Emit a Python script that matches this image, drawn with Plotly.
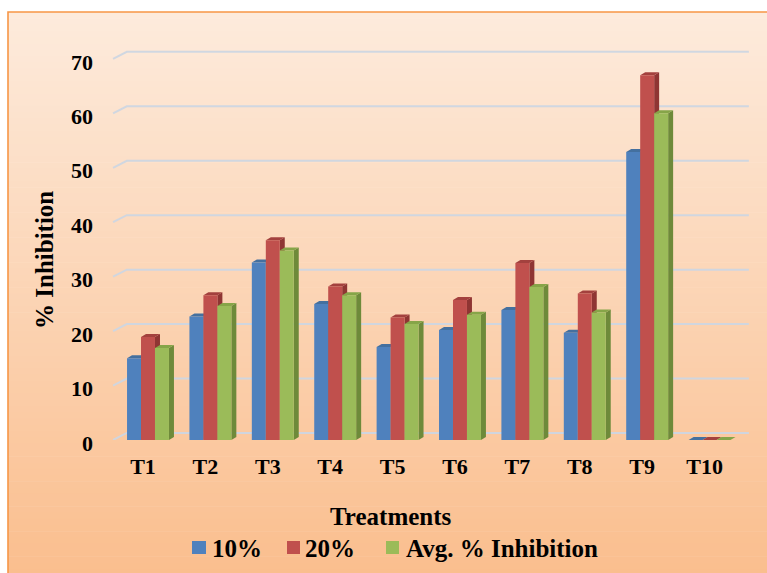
import plotly.graph_objects as go

# ---- data -------------------------------------------------------------
treatments = ["T1", "T2", "T3", "T4", "T5", "T6", "T7", "T8", "T9", "T10"]
inhib_10 = [15.0, 22.7, 32.6, 25.0, 17.1, 20.2, 23.9, 19.7, 52.9, 0.0]
inhib_20 = [18.9, 26.6, 36.7, 28.2, 22.5, 25.7, 32.5, 26.9, 67.0, 0.0]
inhib_avg = [16.9, 24.6, 34.8, 26.6, 21.3, 23.0, 28.1, 23.4, 60.0, 0.0]
y_ticks = [0, 10, 20, 30, 40, 50, 60, 70]
series_names = ["10%", "20%", "Avg. % Inhibition"]

# front / side / top colours of each column series
front_colors = ["#4f81bd", "#c0504d", "#9bbb59"]
side_colors = ["#3b6596", "#8f3533", "#6e8a3a"]
top_colors = ["#44709f", "#a3413e", "#86a548"]

# ---- geometry ---------------------------------------------------------
W, H = 767, 573
L, R, T, B = 111, 751, 48, 440          # plot area in pixels
X_RANGE = [-0.513, 9.744]
Y_RANGE = [0, 72]
BAR_W = 0.224
OFFSETS = [-0.256, -0.032, 0.192]
DX, DY = 0.08, 0.55                      # column depth (data units)
GDX0, GDX1, GX_END, GDY = -0.48, -0.26, 9.71, 1.29   # back-wall grid


def xp(px):
    return (px - L) / (R - L)


def yp(py):
    return (B - py) / (B - T)


FONT = "Times New Roman, Liberation Serif, serif"
TXT = dict(family=FONT, color="black", weight=700)

fig = go.Figure()
shapes = []
annotations = []

# chart-area gradient (light cream at top to peach at bottom)
top_c = (253, 235, 220)
bot_c = (250, 190, 142)
y_start, y_end = 12, H + 2
n_bands = 90
step = (y_end - y_start) / n_bands
for k in range(n_bands):
    t = k / (n_bands - 1)
    c = tuple(round(a + (b - a) * t) for a, b in zip(top_c, bot_c))
    shapes.append(dict(
        type="rect", xref="paper", yref="paper", layer="below",
        x0=xp(8), x1=xp(W + 5),
        y0=yp(y_start + k * step), y1=yp(y_start + (k + 1) * step + 0.6),
        fillcolor="rgb(%d,%d,%d)" % c, line=dict(width=0),
    ))
# chart-area border
shapes.append(dict(
    type="path", xref="paper", yref="paper", layer="below",
    path="M %f,%f L %f,%f L %f,%f" % (xp(8), yp(H + 5), xp(8), yp(12), xp(W + 5), yp(12)),
    line=dict(color="#f79646", width=1.6),
))

# back-wall gridlines with the slanted floor edge
for v in y_ticks:
    shapes.append(dict(
        type="path", xref="x", yref="y", layer="between",
        path="M %f,%f L %f,%f L %f,%f" % (GDX0, v, GDX1, v + GDY, GX_END, v + GDY),
        line=dict(color="rgba(205,214,226,0.95)", width=2),
    ))

all_values = [inhib_10, inhib_20, inhib_avg]

# depth faces of the columns
for vals, off, side, top in zip(all_values, OFFSETS, side_colors, top_colors):
    for i, v in enumerate(vals):
        xl = i + off
        xr = xl + BAR_W
        shapes.append(dict(
            type="path", xref="x", yref="y", layer="between",
            path="M %f,0 L %f,%f L %f,%f L %f,%f Z" % (xr, xr + DX, DY, xr + DX, v + DY, xr, v),
            fillcolor=side, line=dict(width=0),
        ))
        shapes.append(dict(
            type="path", xref="x", yref="y", layer="between",
            path="M %f,%f L %f,%f L %f,%f L %f,%f Z" % (xl, v, xl + DX, v + DY, xr + DX, v + DY, xr, v),
            fillcolor=top, line=dict(width=0),
        ))

# front faces of the columns
for name, vals, off, front in zip(series_names, all_values, OFFSETS, front_colors):
    fig.add_trace(go.Bar(
        x=list(range(len(treatments))), y=vals, name=name,
        width=BAR_W, offset=off, showlegend=False,
        marker=dict(color=front, line=dict(width=0)),
    ))

# legend row: square swatch followed by its label
LEG_Y = 548
legend_x = [(192, 206, 210), (287, 300, 303), (386, 399, 404)]
for name, color, (s0, s1, tx) in zip(series_names, front_colors, legend_x):
    shapes.append(dict(
        type="rect", xref="paper", yref="paper",
        x0=xp(s0), x1=xp(s1), y0=yp(LEG_Y + 6), y1=yp(LEG_Y - 7),
        fillcolor=color, line=dict(width=0),
    ))
    annotations.append(dict(
        text=name, xref="paper", yref="paper", x=xp(tx), y=yp(LEG_Y),
        xanchor="left", yanchor="middle", showarrow=False,
        font=dict(size=25, **TXT),
    ))

annotations += [
    dict(text="Treatments", xref="paper", yref="paper", x=xp(391), y=yp(516),
         xanchor="center", yanchor="middle", showarrow=False,
         font=dict(size=25, **TXT)),
    dict(text="% Inhibition", xref="paper", yref="paper", x=xp(44), y=yp(260),
         xanchor="center", yanchor="middle", showarrow=False, textangle=-90,
         font=dict(size=25, **TXT)),
]

fig.update_layout(
    width=W, height=H,
    margin=dict(l=L, r=W - R, t=T, b=H - B, pad=0, autoexpand=False),
    paper_bgcolor="white",
    plot_bgcolor="rgba(0,0,0,0)",
    barmode="overlay",
    shapes=shapes,
    annotations=annotations,
    showlegend=False,
    font=dict(family=FONT, color="black"),
)

fig.update_xaxes(
    range=X_RANGE, tickvals=list(range(len(treatments))), ticktext=treatments,
    showgrid=False, zeroline=False, showline=False, ticks="", automargin=False,
    ticklabelstandoff=11,
    tickfont=dict(size=22, **TXT),
)
fig.update_yaxes(
    range=Y_RANGE, tickvals=y_ticks, showgrid=False, zeroline=False,
    showline=False, ticks="", automargin=False,
    ticklabelstandoff=17, ticklabelshift=3,
    tickfont=dict(size=22, **TXT),
)

fig.write_html("out.html")
